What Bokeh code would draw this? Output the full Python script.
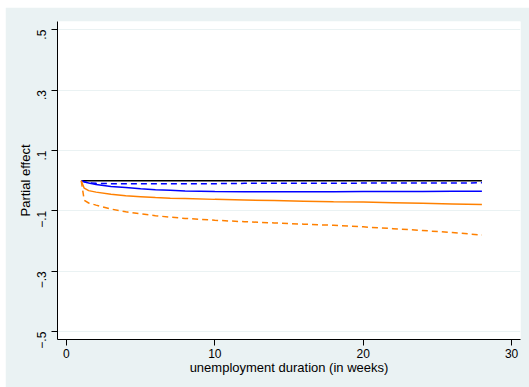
import math
from bokeh.plotting import figure
from bokeh.models import FixedTicker, Spacer
from bokeh.layouts import row, column
from bokeh.embed import file_html
from bokeh.resources import INLINE

# data (unemployment duration in weeks)
weeks = [1, 1.2, 1.5, 2, 3, 4, 5, 6, 7, 8, 10, 12, 14, 16, 18, 20, 22, 24, 26, 28]
black_solid = [0, 0, 0, 0, 0, 0, 0, 0, 0, 0, 0, 0, 0, 0, 0, 0, 0, 0, 0, 0]
blue_dashed = [0, -0.004, -0.007, -0.009, -0.010, -0.010, -0.010, -0.010, -0.010, -0.010,
               -0.010, -0.009, -0.009, -0.009, -0.009, -0.008, -0.008, -0.008, -0.008, -0.007]
blue_solid = [0, -0.004, -0.008, -0.013, -0.019, -0.023, -0.027, -0.030, -0.032, -0.034,
              -0.036, -0.037, -0.037, -0.037, -0.037, -0.036, -0.036, -0.036, -0.035, -0.035]
orange_solid = [0, -0.025, -0.033, -0.038, -0.045, -0.050, -0.053, -0.056, -0.058, -0.059,
                -0.062, -0.064, -0.066, -0.068, -0.070, -0.071, -0.073, -0.075, -0.077, -0.079]
orange_dashed = [0, -0.065, -0.074, -0.081, -0.094, -0.103, -0.110, -0.116, -0.121, -0.125,
                 -0.131, -0.136, -0.140, -0.144, -0.148, -0.153, -0.159, -0.165, -0.172, -0.180]

x_ticks = [0, 10, 20, 30]
y_ticks = [-0.5, -0.3, -0.1, 0.1, 0.3, 0.5]
y_tick_labels = ["\u2212.5", "\u2212.3", "\u2212.1", ".1", ".3", ".5"]

BG = "#eaf2f3"
W, H = 524, 380

p = figure(width=W, height=H, x_range=(-0.6, 30.6), y_range=(-0.526, 0.527),
           output_backend="svg", toolbar_location=None)
p.background_fill_color = "white"
p.border_fill_color = BG
p.outline_line_color = None
p.min_border_left = 52
p.min_border_top = 14
p.min_border_right = 9
p.min_border_bottom = 48

p.xgrid.grid_line_color = None
p.ygrid.grid_line_color = BG
p.ygrid.grid_line_width = 1

p.xaxis.ticker = FixedTicker(ticks=x_ticks)
p.yaxis.ticker = FixedTicker(ticks=y_ticks)
p.yaxis.major_label_overrides = {t: l for t, l in zip(y_ticks, y_tick_labels)}
p.yaxis.major_label_orientation = math.pi / 2

for ax in (p.xaxis, p.yaxis):
    ax.axis_line_color = "black"
    ax.axis_line_width = 1
    ax.major_tick_line_color = "black"
    ax.major_tick_out = 6
    ax.major_tick_in = 0
    ax.minor_tick_line_color = None
    ax.major_label_text_font = "Liberation Sans"
    ax.major_label_text_font_size = "12px"
    ax.major_label_text_color = "black"
    ax.axis_label_text_font = "Liberation Sans"
    ax.axis_label_text_font_size = "13px"
    ax.axis_label_text_font_style = "normal"
    ax.axis_label_text_color = "black"

p.xaxis.axis_label = "unemployment duration (in weeks)"
p.yaxis.axis_label = "Partial effect"
p.xaxis.major_label_standoff = 3
p.xaxis.axis_label_standoff = -1
p.yaxis.major_label_standoff = 10
p.yaxis.axis_label_standoff = -3

p.line(weeks, black_solid, line_color="black", line_width=1.5)
p.line(weeks, blue_dashed, line_color="#0000ff", line_width=1.5, line_dash="6 4")
p.line(weeks, blue_solid, line_color="#0000ff", line_width=1.5)
p.line(weeks, orange_solid, line_color="#ff8000", line_width=1.5)
p.line(weeks, orange_dashed, line_color="#ff8000", line_width=1.5, line_dash="6 4")

layout = row(Spacer(width=5, height=387), column(Spacer(width=W, height=7), p))
open("out.html", "w").write(file_html(layout, INLINE))
